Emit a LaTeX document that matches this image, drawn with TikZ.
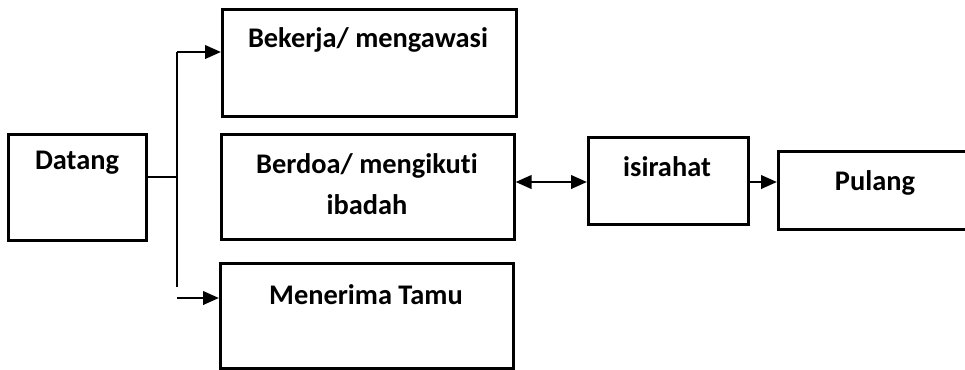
\documentclass[tikz,border=0pt]{standalone}
\usepackage{fontspec}
\setmainfont[Ligatures=NoCommon]{Carlito}
\usetikzlibrary{arrows.meta}
\begin{document}
\begin{tikzpicture}[x=0.75pt,y=-0.75pt,
  boxst/.style={draw,line width=1.9pt,anchor=north west,inner sep=0pt},
  lbl/.style={font=\bfseries\fontsize{21.3}{31}\selectfont,inner sep=0pt,align=center},
  conn/.style={line width=2.1pt,-{Triangle[length=12pt,width=10pt]}},
  plain/.style={line width=2.1pt}]
\useasboundingbox (0,0) rectangle (965,369);
\clip (0,0) rectangle (965,369);
% boxes
\node[boxst,minimum width=138*0.75pt,minimum height=106*0.75pt] (datang) at (7,133) {};
\node[boxst,minimum width=294*0.75pt,minimum height=107*0.75pt] (bekerja) at (221,8) {};
\node[boxst,minimum width=293*0.75pt,minimum height=105*0.75pt] (berdoa) at (220,133) {};
\node[boxst,minimum width=293*0.75pt,minimum height=105*0.75pt] (menerima) at (219,262) {};
\node[boxst,minimum width=160*0.75pt,minimum height=87*0.75pt] (isirahat) at (587,136) {};
\node[boxst,minimum width=250*0.75pt,minimum height=78*0.75pt] (pulang) at (777,150) {};
% texts
\node[lbl] (tdatang) at (77,163) {Datang};
\node[lbl] (tbekerja) at (368,40) {Bekerja/ mengawasi};
\node[lbl] (tberdoa) at (367,184) {Berdoa/ mengikuti\\ibadah};
\node[lbl] (tmenerima) at (366,295) {Menerima Tamu};
\node[lbl] (tisirahat) at (667,167) {isirahat};
\node[lbl] (tpulang) at (875,183) {Pulang};
% connectors
\coordinate (j) at (177,177);
\coordinate (jt) at (177,52);
\coordinate (jb) at (177,287);
\coordinate (jb2) at (177,298);
\draw[plain] (datang.east |- j) -- (j);
\draw[plain] (jb) -- (jt);
\draw[conn] (jt) -- (jt -| bekerja.west);
\draw[conn] (jb2) -- (jb2 -| menerima.west);
\draw[line width=2.1pt,{Triangle[length=12pt,width=10pt]}-{Triangle[length=12pt,width=10pt]}] (berdoa.east |- 0,182) -- (isirahat.west |- 0,182);
\draw[conn] (isirahat.east |- 0,182) -- (pulang.west |- 0,182);
\end{tikzpicture}
\end{document}
